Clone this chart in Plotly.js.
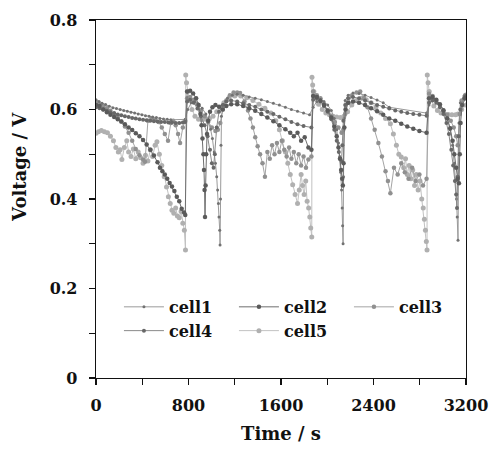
<!DOCTYPE html>
<html>
<head>
<meta charset="utf-8">
<script src="https://cdn.plot.ly/plotly-3.0.1.min.js"></script>
<style>
  html, body { margin: 0; padding: 0; background: #fff; }
  #chart { width: 491px; height: 450px; }
</style>
</head>
<body>
<div id="chart"></div>
<script>
// ---------- data (time in s, voltage in V) ----------
const seriesNames = ["cell1", "cell2", "cell3", "cell4", "cell5"];

const cell1_t = [0,26,52,83,115,146,177,209,240,271,303,334,365,397,428,459,490,522,553,584,616,647,772,
  793,824,856,887,918,950,970,991,1007,1023,1033,1044,1052,1059,1064,1070,1073,1077,1081,1085,1106,1137,1179,1221,1273,1325,1377,1430,1482,1534,1586,1638,1690,1743,1795,1847,
  1878,1910,1941,1972,2004,2035,2061,2082,2097,2108,2116,2124,2129,2133,2137,2141,2145,2155,2181,2223,2275,2327,2379,2431,2484,2536,2859,
  2880,2911,2943,2974,3005,3037,3063,3084,3099,3110,3118,3124,3131,3135,3139,3151,3183,3200];
const cell1_v = [0.622,0.618,0.614,0.611,0.607,0.604,0.602,0.600,0.598,0.596,0.594,0.592,0.590,0.588,0.586,0.585,0.583,0.582,0.580,0.579,0.578,0.577,0.578,
  0.600,0.615,0.618,0.612,0.603,0.590,0.575,0.556,0.535,0.505,0.480,0.450,0.420,0.390,0.360,0.330,0.297,0.400,0.520,0.585,0.612,0.625,0.632,0.634,0.632,0.628,0.625,0.622,0.618,0.614,0.610,0.605,0.600,0.596,0.592,0.588,
  0.605,0.618,0.622,0.618,0.610,0.598,0.580,0.555,0.525,0.495,0.460,0.420,0.380,0.340,0.300,0.450,0.580,0.620,0.632,0.637,0.636,0.632,0.627,0.621,0.615,0.605,0.592,
  0.610,0.622,0.620,0.612,0.600,0.582,0.555,0.520,0.480,0.440,0.400,0.360,0.308,0.450,0.570,0.615,0.630,0.632];

const cell2_t = [0,31,63,94,125,157,188,219,250,282,313,344,376,407,438,470,501,532,553,574,595,616,637,657,678,699,720,741,762,772,
  788,814,840,866,887,903,913,921,929,934,939,943,948,953,960,970,986,1007,1033,1064,1096,1127,1169,1221,1273,1325,1377,1430,1482,1534,1586,1638,1680,1711,1743,1774,1805,1837,1863,
  1878,1910,1941,1972,2004,2035,2061,2082,2097,2110,2120,2129,2135,2141,2148,2158,2181,2223,2275,2327,2379,2431,2484,2536,2588,2640,2692,2744,2797,2859,
  2880,2911,2943,2974,3005,3037,3063,3084,3099,3115,3128,3139,3146,3153,3167,3193,3200];
const cell2_v = [0.610,0.608,0.600,0.594,0.588,0.583,0.578,0.573,0.567,0.560,0.554,0.547,0.540,0.532,0.522,0.510,0.497,0.482,0.470,0.462,0.455,0.445,0.436,0.428,0.418,0.405,0.395,0.378,0.370,0.364,
  0.640,0.642,0.636,0.625,0.610,0.590,0.565,0.535,0.500,0.465,0.420,0.360,0.430,0.500,0.545,0.575,0.595,0.605,0.610,0.606,0.600,0.608,0.612,0.612,0.608,0.603,0.597,0.590,0.582,0.574,0.565,0.556,0.548,0.540,0.548,0.530,0.538,0.515,0.510,
  0.630,0.628,0.620,0.610,0.598,0.582,0.562,0.540,0.515,0.490,0.465,0.445,0.430,0.480,0.560,0.600,0.615,0.618,0.615,0.610,0.603,0.596,0.588,0.580,0.575,0.568,0.562,0.557,0.552,0.548,
  0.625,0.628,0.622,0.612,0.598,0.580,0.558,0.530,0.500,0.470,0.445,0.435,0.500,0.570,0.610,0.625,0.627];

const cell3_t = [0,31,63,94,125,157,188,219,250,282,313,344,376,407,424,449,480,511,543,569,595,623,647,668,689,710,727,751,772,
  788,814,845,877,908,939,970,1002,1033,1054,1075,1096,1127,1158,1190,1221,1246,1284,1315,1336,1357,1377,1398,1419,1440,1461,1482,1503,1523,1544,1565,1586,1607,1628,1649,1670,1690,1711,1732,1753,1774,1795,1816,1837,1863,
  1878,1910,1941,1972,2004,2035,2066,2097,2124,2139,2155,2181,2212,2254,2285,2317,2348,2379,2410,2442,2473,2504,2525,2546,2577,2609,2640,2671,2703,2734,2765,2797,2828,2859,
  2880,2911,2943,2974,3005,3037,3068,3094,3115,3128,3136,3146,3162,3193,3200];
const cell3_v = [0.615,0.612,0.608,0.603,0.597,0.590,0.582,0.573,0.562,0.548,0.530,0.512,0.498,0.488,0.483,0.575,0.580,0.578,0.572,0.560,0.545,0.530,0.570,0.575,0.565,0.545,0.525,0.560,0.575,
  0.625,0.628,0.622,0.612,0.598,0.585,0.572,0.560,0.552,0.555,0.570,0.600,0.620,0.632,0.638,0.638,0.637,0.618,0.598,0.580,0.560,0.538,0.518,0.500,0.480,0.450,0.505,0.490,0.520,0.500,0.525,0.505,0.530,0.510,0.495,0.515,0.490,0.505,0.480,0.500,0.475,0.495,0.470,0.488,0.495,
  0.640,0.632,0.625,0.612,0.598,0.585,0.572,0.560,0.548,0.555,0.590,0.615,0.630,0.638,0.640,0.625,0.605,0.580,0.555,0.525,0.495,0.462,0.440,0.413,0.470,0.455,0.480,0.460,0.445,0.470,0.440,0.455,0.430,0.445,
  0.635,0.630,0.620,0.610,0.598,0.588,0.575,0.560,0.540,0.520,0.540,0.590,0.620,0.632,0.633];

const cell4_t = [0,31,63,94,125,157,188,219,250,282,313,344,376,407,438,470,501,532,563,595,626,657,689,720,751,772,
  788,814,845,877,908,939,965,986,1002,1017,1028,1044,1064,1096,1127,1169,1221,1273,1325,1377,1430,1482,1534,1586,1638,1690,1743,1795,1863,
  1878,1910,1941,1972,2004,2035,2061,2082,2100,2113,2124,2131,2139,2155,2181,2223,2275,2327,2379,2431,2484,2536,2588,2640,2692,2744,2797,2859,
  2880,2911,2943,2974,3005,3031,3052,3073,3089,3104,3115,3122,3128,3136,3151,3183,3200];
const cell4_v = [0.605,0.603,0.600,0.597,0.594,0.592,0.589,0.587,0.585,0.583,0.581,0.580,0.578,0.577,0.576,0.575,0.574,0.573,0.572,0.572,0.571,0.571,0.570,0.570,0.571,0.572,
  0.618,0.622,0.615,0.602,0.585,0.565,0.540,0.510,0.480,0.470,0.500,0.560,0.595,0.610,0.618,0.620,0.618,0.614,0.610,0.606,0.600,0.595,0.590,0.584,0.578,0.572,0.567,0.563,0.560,
  0.622,0.625,0.618,0.608,0.595,0.578,0.555,0.530,0.505,0.490,0.485,0.520,0.575,0.610,0.625,0.628,0.625,0.620,0.615,0.610,0.606,0.602,0.598,0.595,0.592,0.590,0.588,0.586,
  0.615,0.620,0.615,0.605,0.590,0.570,0.545,0.510,0.475,0.440,0.410,0.380,0.450,0.540,0.600,0.625,0.630];

const cell5_t = [0,21,47,73,99,125,151,172,193,209,224,245,266,282,303,323,344,365,386,407,428,449,470,490,511,527,548,569,590,610,626,642,657,673,689,704,720,736,751,764,774,
  776,783,793,809,830,856,887,918,950,981,1012,1044,1075,1106,1148,1200,1252,1304,1357,1409,1461,1513,1555,1586,1612,1638,1659,1680,1701,1722,1743,1758,1774,1786,1800,1814,1826,1839,1849,1857,1866,
  1868,1874,1884,1899,1925,1957,1988,2019,2051,2082,2113,2144,2176,2212,2254,2296,2337,2379,2421,2463,2504,2546,2572,2598,2619,2640,2661,2677,2692,2708,2724,2739,2755,2770,2786,2802,2817,2830,2840,2849,2857,2863,
  2865,2872,2882,2899,2922,2953,2984,3016,3047,3078,3110,3131,3162,3200];
const cell5_v = [0.547,0.550,0.553,0.550,0.548,0.540,0.530,0.515,0.505,0.510,0.488,0.515,0.530,0.505,0.495,0.512,0.490,0.505,0.492,0.480,0.498,0.485,0.510,0.495,0.520,0.528,0.500,0.475,0.450,0.427,0.405,0.390,0.375,0.368,0.380,0.362,0.358,0.372,0.346,0.330,0.286,
  0.677,0.660,0.640,0.620,0.600,0.585,0.578,0.577,0.578,0.580,0.585,0.595,0.605,0.615,0.625,0.630,0.630,0.626,0.620,0.612,0.603,0.592,0.575,0.555,0.530,0.505,0.480,0.455,0.432,0.410,0.390,0.420,0.455,0.430,0.410,0.440,0.395,0.380,0.360,0.335,0.315,
  0.672,0.655,0.640,0.625,0.612,0.600,0.592,0.588,0.585,0.583,0.582,0.585,0.595,0.610,0.620,0.625,0.622,0.615,0.605,0.592,0.580,0.568,0.545,0.520,0.500,0.494,0.470,0.490,0.455,0.475,0.445,0.465,0.430,0.455,0.420,0.440,0.400,0.380,0.355,0.330,0.305,0.286,
  0.677,0.660,0.640,0.622,0.608,0.598,0.592,0.590,0.589,0.588,0.588,0.590,0.600,0.610];

const xTickVals = [0, 800, 1600, 2400, 3200];
const xTickText = ["0", "800", "1600", "2400", "3200"];
const yTickVals = [0, 0.2, 0.4, 0.6, 0.8];
const yTickText = ["0", "0.2", "0.4", "0.6", "0.8"];

// ---------- styling ----------
const styles = {
  cell1: { line: "#9a9a9a", marker: "#727272", size: 3 },
  cell2: { line: "#6e6e6e", marker: "#5a5a5a", size: 4.5 },
  cell3: { line: "#a4a4a4", marker: "#909090", size: 4.5 },
  cell4: { line: "#8a8a8a", marker: "#686868", size: 4 },
  cell5: { line: "#c2c2c2", marker: "#b0b0b0", size: 5 }
};

const dataMap = {
  cell1: [cell1_t, cell1_v],
  cell2: [cell2_t, cell2_v],
  cell3: [cell3_t, cell3_v],
  cell4: [cell4_t, cell4_v],
  cell5: [cell5_t, cell5_v]
};

const drawOrder = ["cell5", "cell3", "cell1", "cell4", "cell2"];
const traces = seriesNames.map(name => {
  const s = styles[name];
  return {
    type: "scatter",
    mode: "lines+markers",
    name: name,
    x: dataMap[name][0],
    y: dataMap[name][1],
    line: { color: s.line, width: 1 },
    marker: { color: s.marker, size: s.size, line: { width: 0 } },
    legendrank: seriesNames.indexOf(name) + 1
  };
});
traces.sort((a, b) => drawOrder.indexOf(a.name) - drawOrder.indexOf(b.name));

const FONT = "DejaVu Serif";
const layout = {
  width: 491, height: 450,
  margin: { l: 96, r: 25, t: 20, b: 72 },
  paper_bgcolor: "#ffffff",
  plot_bgcolor: "#ffffff",
  font: { family: FONT, size: 16, color: "#111", weight: "bold" },
  showlegend: true,
  legend: {
    orientation: "h",
    x: 0.062, y: 0.246, xanchor: "left", yanchor: "top",
    entrywidth: 60, entrywidthmode: "pixels",
    bgcolor: "rgba(0,0,0,0)",
    font: { family: FONT, size: 16, color: "#111", weight: "bold" },
    tracegroupgap: 0, itemwidth: 40
  },
  xaxis: {
    range: [0, 3200],
    tickmode: "array", tickvals: xTickVals, ticktext: xTickText,
    ticks: "outside", ticklen: 6, tickwidth: 1.2, tickcolor: "#111",
    minor: { dtick: 400, tick0: 0, ticks: "outside", ticklen: 6, tickwidth: 1.2, tickcolor: "#111" },
    showline: true, linecolor: "#111", linewidth: 1.3, mirror: true,
    showgrid: false, zeroline: false,
    tickfont: { family: FONT, size: 16, color: "#111", weight: "bold" },
    ticklabelstandoff: 6, ticklabeloverflow: "allow",
    title: { text: "Time / s", font: { family: FONT, size: 18, color: "#111", weight: "bold" }, standoff: 14 }
  },
  yaxis: {
    range: [0, 0.8],
    tickmode: "array", tickvals: yTickVals, ticktext: yTickText,
    ticks: "outside", ticklen: 6, tickwidth: 1.2, tickcolor: "#111",
    minor: { dtick: 0.1, tick0: 0, ticks: "outside", ticklen: 6, tickwidth: 1.2, tickcolor: "#111" },
    showline: true, linecolor: "#111", linewidth: 1.3, mirror: true,
    showgrid: false, zeroline: false,
    tickfont: { family: FONT, size: 16, color: "#111", weight: "bold" },
    ticklabelstandoff: 8
  },
  annotations: [{
    text: "Voltage / V",
    xref: "paper", yref: "paper",
    x: -0.205, y: 0.59, xanchor: "center", yanchor: "middle",
    textangle: -90, showarrow: false,
    font: { family: FONT, size: 18, color: "#111", weight: "bold" }
  }]
};

Plotly.newPlot("chart", traces, layout, { displayModeBar: false, staticPlot: true });
</script>
</body>
</html>
